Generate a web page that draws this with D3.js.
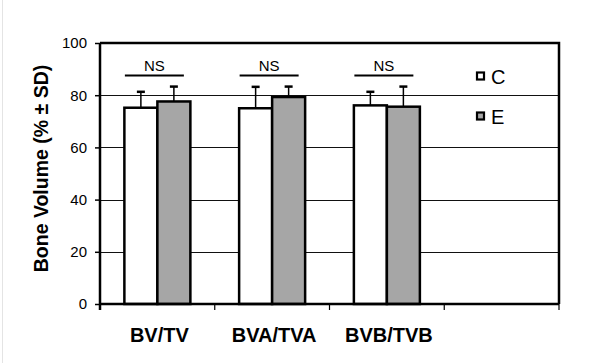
<!DOCTYPE html>
<html lang="en">
<head>
    <meta charset="UTF-8">
    <title>Bone Volume</title>
    <style>
        body { margin: 0; background: #fff; }
        svg { display: block; font-family: 'Liberation Sans', Arial, sans-serif; }
    </style>
</head>
<body>
    <div id="chart"></div>
    <script src="https://d3js.org/d3.v7.min.js"></script>
    <script>
        // Data
        const categories = ['BV/TV', 'BVA/TVA', 'BVB/TVB', ''];
        const groups = ['C', 'E'];
        const meanC = [75.2, 75.0, 76.1];
        const meanE = [77.6, 79.3, 75.6];
        const sdC = [6.1, 8.2, 5.2];
        const sdE = [5.7, 4.0, 7.7];
        const yTicks = [0, 20, 40, 60, 80, 100];
        const sigLabels = ['NS', 'NS', 'NS'];

        const width = 594, height = 363;
        const margin = { top: 43, right: 35, bottom: 59, left: 100 };
        const innerW = width - margin.left - margin.right;
        const innerH = height - margin.top - margin.bottom;

        const colors = { C: '#ffffff', E: '#a6a6a6' };

        const svg = d3.select('#chart').append('svg')
            .attr('width', width)
            .attr('height', height);

        // faint frame line at the left edge
        svg.append('line')
            .attr('x1', 2.5).attr('x2', 2.5)
            .attr('y1', 0).attr('y2', height)
            .attr('stroke', '#e4e4e4');

        const g = svg.append('g')
            .attr('transform', `translate(${margin.left},${margin.top})`);

        const x = d3.scaleBand()
            .domain(categories.map((c, i) => i))
            .range([0, innerW])
            .paddingInner(0)
            .paddingOuter(0);

        const xSub = d3.scaleBand()
            .domain(groups)
            .range([0, 66]);

        const y = d3.scaleLinear()
            .domain([0, 100])
            .range([innerH, 0]);

        // gridlines
        g.append('g')
            .selectAll('line')
            .data(yTicks.filter(t => t > 0 && t < 100))
            .enter().append('line')
            .attr('x1', 0).attr('x2', innerW)
            .attr('y1', d => Math.round(y(d)) + 0.5)
            .attr('y2', d => Math.round(y(d)) + 0.5)
            .attr('stroke', '#111')
            .attr('stroke-width', 1);

        // plot frame (top/right)
        g.append('path')
            .attr('d', `M0,0H${innerW}V${innerH}`)
            .attr('fill', 'none')
            .attr('stroke', '#000')
            .attr('stroke-width', 2.5);

        // bars
        const rows = categories.slice(0, 3).map((c, i) => ({
            i,
            vals: [
                { key: 'C', mean: meanC[i], sd: sdC[i] },
                { key: 'E', mean: meanE[i], sd: sdE[i] }
            ]
        }));

        const grp = g.selectAll('.grp')
            .data(rows)
            .enter().append('g')
            .attr('class', 'grp')
            .attr('transform', d => `translate(${x(d.i) + x.bandwidth() / 2 - 33},0)`);

        // error bars (behind bars)
        const eb = grp.selectAll('.err')
            .data(d => d.vals)
            .enter().append('g')
            .attr('class', 'err');

        eb.append('line')
            .attr('x1', d => xSub(d.key) + xSub.bandwidth() / 2)
            .attr('x2', d => xSub(d.key) + xSub.bandwidth() / 2)
            .attr('y1', d => y(d.mean))
            .attr('y2', d => y(d.mean + d.sd))
            .attr('stroke', '#000')
            .attr('stroke-width', 1.5);

        eb.append('line')
            .attr('x1', d => xSub(d.key) + xSub.bandwidth() / 2 - 4)
            .attr('x2', d => xSub(d.key) + xSub.bandwidth() / 2 + 4)
            .attr('y1', d => y(d.mean + d.sd))
            .attr('y2', d => y(d.mean + d.sd))
            .attr('stroke', '#000')
            .attr('stroke-width', 2.5);

        grp.selectAll('rect')
            .data(d => d.vals)
            .enter().append('rect')
            .attr('x', d => xSub(d.key))
            .attr('y', d => y(d.mean))
            .attr('width', xSub.bandwidth())
            .attr('height', d => innerH - y(d.mean))
            .attr('fill', d => colors[d.key])
            .attr('stroke', '#000')
            .attr('stroke-width', 2.5);

        // significance markers
        const sig = g.selectAll('.sig')
            .data(sigLabels)
            .enter().append('g')
            .attr('class', 'sig')
            .attr('transform', (d, i) => `translate(${x(i) + x.bandwidth() / 2 - 3},0)`);

        sig.append('line')
            .attr('x1', -29.5).attr('x2', 29.5)
            .attr('y1', 32.5).attr('y2', 32.5)
            .attr('stroke', '#000')
            .attr('stroke-width', 2);

        sig.append('text')
            .attr('x', 0)
            .attr('y', 28)
            .attr('text-anchor', 'middle')
            .style('font-size', '15px')
            .text(d => d);

        // y axis
        const yAxis = g.append('g')
            .call(d3.axisLeft(y).tickValues(yTicks).tickSize(5).tickPadding(8));
        yAxis.select('.domain').attr('stroke-width', 2.5).attr('d', `M0,${innerH + 6}V0`);
        yAxis.selectAll('.tick line').attr('stroke-width', 1.5);
        yAxis.selectAll('text')
            .style('font-size', '15px')
            .style('font-family', "'Liberation Sans', Arial, sans-serif")
            .attr('fill', '#000');

        // x axis
        const xAxis = g.append('g')
            .attr('transform', `translate(0,${innerH})`);
        xAxis.append('line')
            .attr('x1', 0).attr('x2', innerW)
            .attr('stroke', '#000')
            .attr('stroke-width', 2.5);
        xAxis.selectAll('.xt')
            .data(d3.range(categories.length + 1))
            .enter().append('line')
            .attr('class', 'xt')
            .attr('x1', i => i < categories.length ? x(i) : innerW)
            .attr('x2', i => i < categories.length ? x(i) : innerW)
            .attr('y1', 0).attr('y2', 6)
            .attr('stroke', '#000')
            .attr('stroke-width', 1.2);
        xAxis.selectAll('.xl')
            .data(categories)
            .enter().append('text')
            .attr('class', 'xl')
            .attr('x', (d, i) => x(i) + x.bandwidth() / 2 + 2)
            .attr('y', 38)
            .attr('text-anchor', 'middle')
            .style('font-size', '20px')
            .style('font-weight', 'bold')
            .text(d => d);

        // y axis title
        svg.append('text')
            .attr('transform', `translate(48,${margin.top + innerH / 2 - 5}) rotate(-90)`)
            .attr('text-anchor', 'middle')
            .style('font-size', '19.5px')
            .style('font-weight', 'bold')
            .text('Bone Volume (% \u00b1 SD)');

        // legend
        const legend = svg.append('g')
            .attr('transform', 'translate(476,71)');
        const li = legend.selectAll('g')
            .data(groups)
            .enter().append('g')
            .attr('transform', (d, i) => `translate(0,${i * 40})`);
        li.append('rect')
            .attr('x', 1).attr('y', 1.5)
            .attr('width', 7).attr('height', 7)
            .attr('fill', d => colors[d])
            .attr('stroke', '#000')
            .attr('stroke-width', 2.2);
        li.append('text')
            .attr('x', 15)
            .attr('y', 12.5)
            .style('font-size', '20px')
            .text(d => d);
    </script>
</body>
</html>
